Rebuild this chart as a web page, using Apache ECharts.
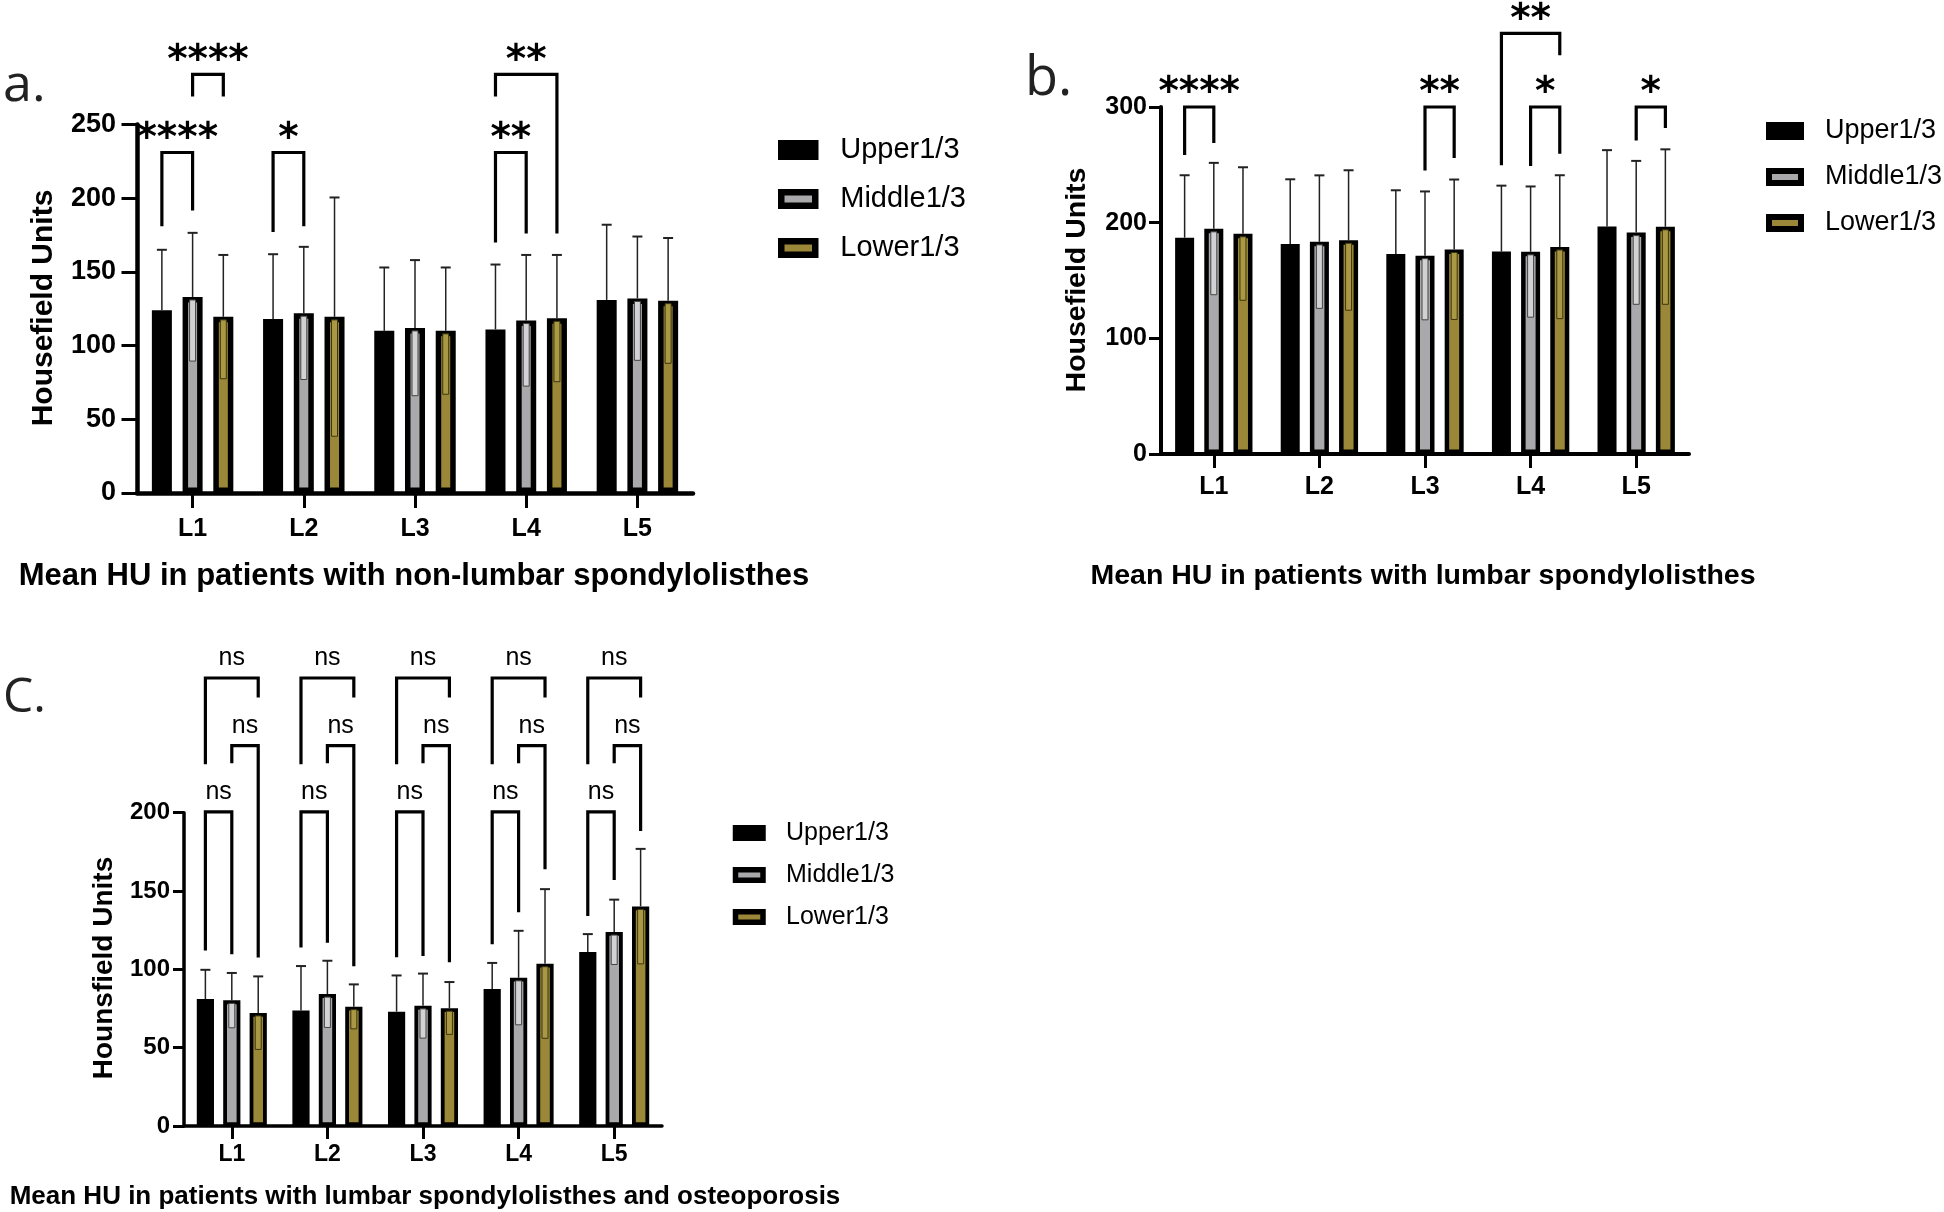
<!DOCTYPE html>
<html>
<head>
<meta charset="utf-8">
<script src="https://cdn.jsdelivr.net/npm/echarts@6/dist/echarts.min.js"></script>
<style>
html,body{margin:0;padding:0;background:#fff;}
#chart{width:1944px;height:1212px;}
</style>
</head>
<body>
<div id="chart"></div>
<script>
// ---------- data ----------
const categories = ['L1', 'L2', 'L3', 'L4', 'L5'];
const seriesNames = ['Upper1/3', 'Middle1/3', 'Lower1/3'];

// panel a: non-lumbar spondylolisthesis (mean, SD)
const aUpper = [124, 118, 110, 111, 131];
const aUpperSD = [41, 44, 43, 44, 51];
const aMiddle = [133, 122, 112, 117, 132];
const aMiddleSD = [43.5, 45, 46, 44.5, 42];
const aLower = [119.5, 119.5, 110, 118.5, 130.5];
const aLowerSD = [42, 81, 43, 43, 42.5];
const aTicks = [0, 50, 100, 150, 200, 250];

// panel b: lumbar spondylolisthesis
const bUpper = [187, 181.5, 173, 175, 196.7];
const bUpperSD = [54, 56, 55, 57, 66];
const bMiddle = [194.7, 183.4, 171.5, 174.8, 191.4];
const bMiddleSD = [57, 57.5, 55.5, 56.5, 62];
const bLower = [190.4, 184.8, 176.8, 179, 196.4];
const bLowerSD = [57.5, 60.5, 60.5, 62, 67];
const bTicks = [0, 100, 200, 300];

// panel c: lumbar spondylolisthesis and osteoporosis
const cUpper = [81, 73.7, 73, 87.4, 111];
const cUpperSD = [18.7, 28.4, 23.1, 16.7, 11.5];
const cMiddle = [80.2, 84.2, 76.7, 94.6, 123.8];
const cMiddleSD = [17.5, 21.3, 20.6, 30, 20.7];
const cLower = [72.2, 76.2, 75.2, 103.6, 140.2];
const cLowerSD = [23.3, 14.2, 16.7, 47.6, 36.7];
const cTicks = [0, 50, 100, 150, 200];

// significance brackets: [category, fromBar, toBar, bracketY, leftLegEndY, rightLegEndY]
const aBrackets = [[0,0,1,231,181,191.6],[0,1,2,284,269,269],[1,0,1,231,177,181],[3,0,1,231,170,176],[3,0,2,284,269,176]];
const aBracketLabels = ['****','****','*','**','**'];
const bBrackets = [[0,0,1,300,258.6,268.9],[2,1,2,300,245,256],[3,1,2,300,249,259.6],[3,0,2,363.6,249.7,344.7],[4,1,2,300,271,281.8]];
const bBracketLabels = ['****','**','*','**','*'];
const cBrackets = [
  [0,0,1,200.5,112,109.6],[0,1,2,242.8,231.6,107.6],[0,0,2,286,231,273.5],
  [1,0,1,200.5,114,117],[1,1,2,242.8,231.6,102],[1,0,2,286,231,273.5],
  [2,0,1,200.5,107.8,108.6],[2,1,2,242.8,231.6,104.6],[2,0,2,286,231,273.5],
  [3,0,1,200.5,116,136.5],[3,1,2,242.8,231.6,163.9],[3,0,2,286,231,273.5],
  [4,0,1,200.5,134,157],[4,1,2,242.8,231.6,188.3],[4,0,2,286,231,273.5]
];
const cBracketLabels = cBrackets.map(() => 'ns');

// ---------- styling ----------
const FILL = ['#000000', '#a9a9ab', '#9a8838'];
const IN_FILL = [null, '#d2d2d4', '#aa9944'];
const IN_STROKE = [null, '#444', '#3d3510'];
const BAR_W = 0.18, BAR_GAP = 0.535;
const OFF = BAR_W * (1 + BAR_GAP);
const FONT = '"Liberation Sans", Arial, sans-serif';

const chart = echarts.init(document.getElementById('chart'));

function errRender(idx) {
  return function (params, api) {
    const cat = api.value(0), m = api.value(1), sd = api.value(2);
    const band = api.size([1, 0])[0];
    const c = api.coord([cat, m]);
    const x = c[0] + (idx - 1) * OFF * band;
    const yT = api.coord([cat, m + sd])[1];
    const yB = api.coord([cat, m - sd])[1];
    const ch = [
      {type: 'line', shape: {x1: x, y1: c[1], x2: x, y2: yT}, style: {stroke: '#222', lineWidth: 1.5}},
      {type: 'line', shape: {x1: x - 5, y1: yT, x2: x + 5, y2: yT}, style: {stroke: '#222', lineWidth: 2}}
    ];
    if (IN_FILL[idx]) {
      ch.push({type: 'rect', shape: {x: x - 3, y: c[1] + 3, width: 6, height: yB - c[1] - 3},
        style: {fill: IN_FILL[idx], stroke: IN_STROKE[idx], lineWidth: 1}});
    }
    return {type: 'group', children: ch};
  };
}

function bracketRender(labels, font, dy) {
  return function (params, api) {
    const cat = api.value(0), yb = api.value(1), i = api.value(2), j = api.value(3);
    const yl = api.value(4), yr = api.value(5);
    const band = api.size([1, 0])[0];
    const c = api.coord([cat, yb]);
    const xL = c[0] + (i - 1) * OFF * band;
    const xR = c[0] + (j - 1) * OFF * band;
    const pL = api.coord([cat, yl])[1];
    const pR = api.coord([cat, yr])[1];
    return {type: 'group', children: [
      {type: 'polyline', shape: {points: [[xL, pL], [xL, c[1]], [xR, c[1]], [xR, pR]]},
        style: {stroke: '#000', lineWidth: 3.2, fill: null, lineJoin: 'miter'}},
      {type: 'text', style: {text: labels[params.dataIndex], x: (xL + xR) / 2, y: c[1] + dy,
        align: 'center', verticalAlign: 'middle', font: font, fill: '#000'}}
    ]};
  };
}

const panels = [
  {grid: {left: 137, top: 124.5, width: 556, height: 368.5}, ticks: aTicks,
   means: [aUpper, aMiddle, aLower], sds: [aUpperSD, aMiddleSD, aLowerSD],
   brackets: aBrackets, labels: aBracketLabels, lf: 'bold 39px "DejaVu Sans"', dy: -13,
   axisW: 4.5, border: 5.5, yFont: 27, xFont: 25, yMargin: 21, xMargin: 24, yTick: 15.5, xTick: 15},
  {grid: {left: 1161, top: 107, width: 528, height: 347}, ticks: bTicks,
   means: [bUpper, bMiddle, bLower], sds: [bUpperSD, bMiddleSD, bLowerSD],
   brackets: bBrackets, labels: bBracketLabels, lf: 'bold 39px "DejaVu Sans"', dy: -13,
   axisW: 4, border: 4.5, yFont: 25, xFont: 25, yMargin: 14, xMargin: 21, yTick: 12, xTick: 14},
  {grid: {left: 184, top: 812.7, width: 478, height: 313.3}, ticks: cTicks,
   means: [cUpper, cMiddle, cLower], sds: [cUpperSD, cMiddleSD, cLowerSD],
   brackets: cBrackets, labels: cBracketLabels, lf: '25px "Liberation Sans"', dy: -20,
   axisW: 3.5, border: 3.8, yFont: 24, xFont: 23, yMargin: 14, xMargin: 17, yTick: 11, xTick: 13}
];

const grid = [], xAxis = [], yAxis = [], series = [];
panels.forEach((p, k) => {
  grid.push(Object.assign({containLabel: false}, p.grid));
  xAxis.push({type: 'category', gridIndex: k, data: categories, boundaryGap: true,
    axisLine: {show: true, lineStyle: {color: '#000', width: p.axisW}},
    axisTick: {show: true, alignWithLabel: true, length: p.xTick, lineStyle: {color: '#000', width: 3}},
    axisLabel: {color: '#000', fontFamily: FONT, fontWeight: 'bold', fontSize: p.xFont, margin: p.xMargin},
    splitLine: {show: false}});
  yAxis.push({type: 'value', gridIndex: k, min: p.ticks[0], max: p.ticks[p.ticks.length - 1],
    interval: p.ticks[1] - p.ticks[0],
    axisLine: {show: true, lineStyle: {color: '#000', width: p.axisW}},
    axisTick: {show: true, length: p.yTick, lineStyle: {color: '#000', width: 3}},
    axisLabel: {color: '#000', fontFamily: FONT, fontWeight: 'bold', fontSize: p.yFont, margin: p.yMargin},
    splitLine: {show: false}});
  seriesNames.forEach((name, idx) => {
    series.push({type: 'bar', name: name, xAxisIndex: k, yAxisIndex: k, data: p.means[idx],
      barWidth: (BAR_W * 100) + '%', barGap: (BAR_GAP * 100) + '%',
      itemStyle: {color: FILL[idx], borderColor: '#000', borderWidth: p.border},
      emphasis: {disabled: true}, z: 2});
  });
  seriesNames.forEach((name, idx) => {
    series.push({type: 'custom', name: name + ' SD', xAxisIndex: k, yAxisIndex: k, clip: false,
      data: p.means[idx].map((m, c) => [c, m, p.sds[idx][c]]),
      encode: {x: 0, y: 1}, renderItem: errRender(idx), z: 3, silent: true});
  });
  series.push({type: 'custom', name: 'sig' + k, xAxisIndex: k, yAxisIndex: k, clip: false,
    data: p.brackets.map(b => [b[0], b[3], b[1], b[2], b[4], b[5]]),
    encode: {x: 0, y: 1}, renderItem: bracketRender(p.labels, p.lf, p.dy), z: 4, silent: true});
});

function legendData(border) {
  return seriesNames.map((n, i) => ({name: n, icon: 'rect',
    itemStyle: {color: i === 0 ? '#000' : FILL[i], borderColor: '#000', borderWidth: border}}));
}
const legend = [
  {left: 778, top: 135, orient: 'vertical', padding: 0, itemWidth: 34, itemHeight: 13.5, itemGap: 19,
   selectedMode: false, data: legendData(6.5),
   textStyle: {fontFamily: FONT, fontSize: 29, lineHeight: 30, color: '#000', padding: [0, 0, 0, 20]}},
  {left: 1766, top: 117, orient: 'vertical', padding: 0, itemWidth: 32, itemHeight: 12, itemGap: 18,
   selectedMode: false, data: legendData(6),
   textStyle: {fontFamily: FONT, fontSize: 27, lineHeight: 28, color: '#000', padding: [0, 0, 0, 19]}},
  {left: 732.75, top: 820, orient: 'vertical', padding: 0, itemWidth: 27.5, itemHeight: 10.5, itemGap: 16,
   selectedMode: false, data: legendData(5.5),
   textStyle: {fontFamily: FONT, fontSize: 25, lineHeight: 26, color: '#000', padding: [0, 0, 0, 18]}}
];

function label(text, x, y, size) {
  return {type: 'text', x: x, y: y, silent: true,
    style: {text: text, x: 0, y: 0, font: '400 ' + size + 'px "Open Sans"', fill: '#222', align: 'left', verticalAlign: 'middle'}};
}
function txt(text, x, y, font, rot) {
  return {type: 'text', x: x, y: y, rotation: rot || 0, silent: true,
    style: {text: text, x: 0, y: 0, font: font, fill: '#000', align: 'center', verticalAlign: 'middle'}};
}
const graphic = [
  label('a.', 3, 86, 52),
  label('b.', 1025, 80, 54),
  label('C.', 3, 698, 48),
  txt('Housefield Units', 44, 308, 'bold 30px "Liberation Sans"', Math.PI / 2),
  txt('Housefield Units', 1077, 280, 'bold 28.5px "Liberation Sans"', Math.PI / 2),
  txt('Hounsfield Units', 104, 968, 'bold 28px "Liberation Sans"', Math.PI / 2),
  txt('Mean HU in patients with non-lumbar spondylolisthes', 414, 576, 'bold 31px "Liberation Sans"'),
  txt('Mean HU in patients with lumbar spondylolisthes', 1423, 576, 'bold 28.5px "Liberation Sans"'),
  txt('Mean HU in patients with lumbar spondylolisthes and osteoporosis', 425, 1197, 'bold 26px "Liberation Sans"')
];

chart.setOption({
  backgroundColor: '#fff',
  animation: false,
  grid: grid, xAxis: xAxis, yAxis: yAxis, legend: legend, series: series, graphic: graphic
});
</script>
</body>
</html>
